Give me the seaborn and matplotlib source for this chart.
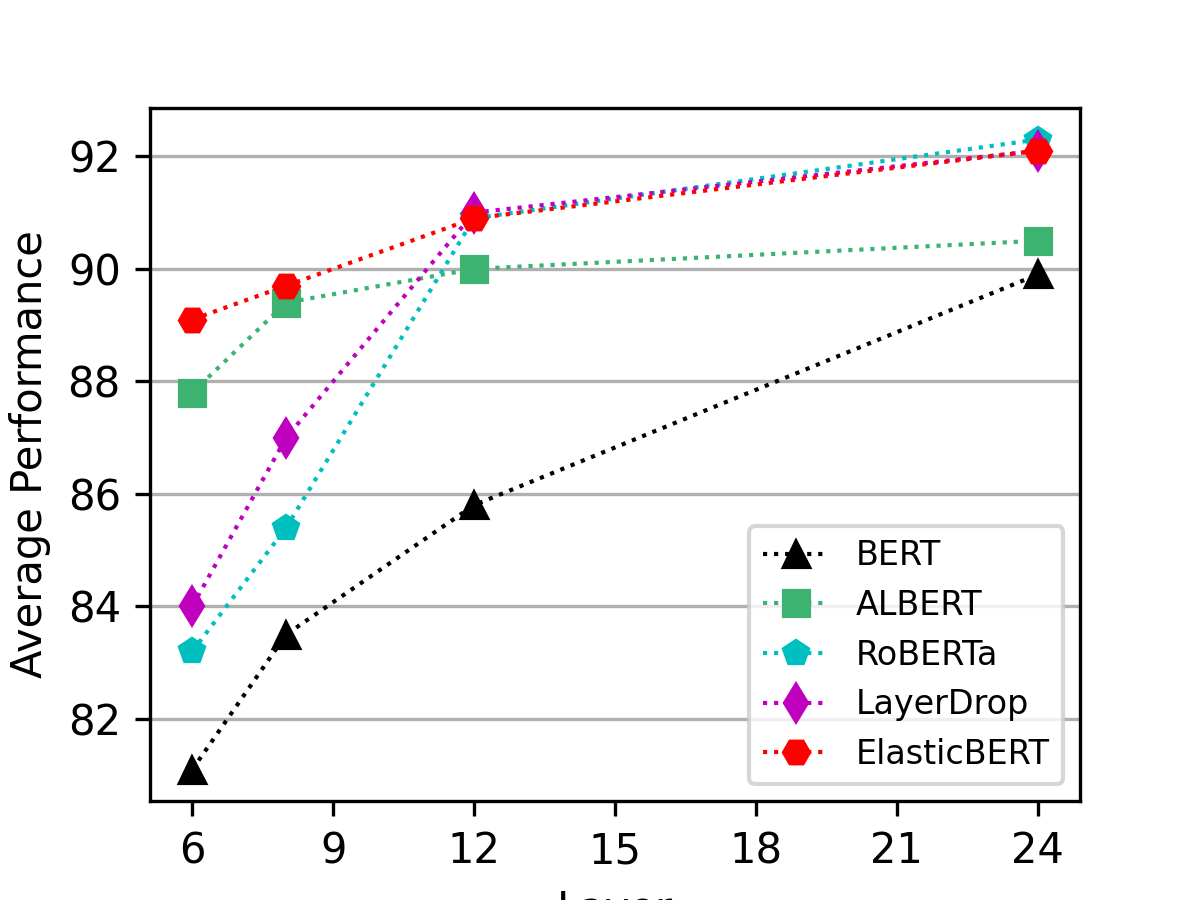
import matplotlib
matplotlib.use("Agg")
import matplotlib.pyplot as plt
import seaborn as sns

layers = [6, 8, 12, 24]
bert = [81.1, 83.5, 85.8, 89.9]
albert = [87.8, 89.4, 90.0, 90.5]
roberta = [83.2, 85.4, 90.9, 92.3]
layerdrop = [84.0, 87.0, 91.0, 92.1]
elasticbert = [89.1, 89.7, 90.9, 92.1]

series = [
    ("BERT", bert, "k", "^"),
    ("ALBERT", albert, "mediumseagreen", "s"),
    ("RoBERTa", roberta, "c", "p"),
    ("LayerDrop", layerdrop, "m", "d"),
    ("ElasticBERT", elasticbert, "r", "H"),
]

fig, ax = plt.subplots(figsize=(4, 3))
for name, vals, color, marker in series:
    sns.lineplot(x=layers, y=vals, ax=ax, color=color, marker=marker,
                 linestyle=":", linewidth=1, markersize=6,
                 markeredgecolor=color, markeredgewidth=1, label=name)

ax.set_xticks([6, 9, 12, 15, 18, 21, 24])
ax.set_yticks([82, 84, 86, 88, 90, 92])
ax.grid(axis="y")
ax.set_axisbelow(True)
ax.set_xlabel("Layer")
ax.set_ylabel("Average Performance")
ax.legend(loc="lower right", fontsize=8)

plt.savefig("out.png", dpi=300)
